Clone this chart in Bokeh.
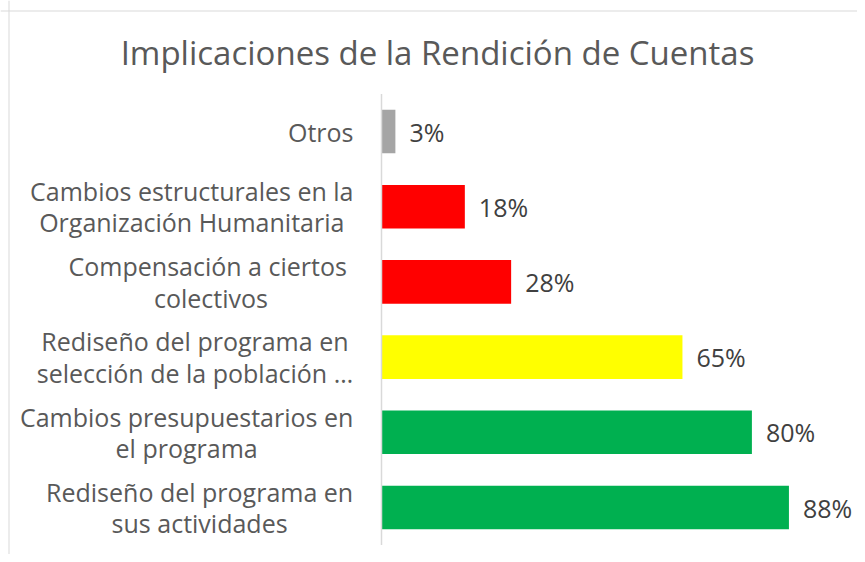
from bokeh.plotting import figure
from bokeh.models import ColumnDataSource, Range1d, Label, Span
from bokeh.embed import file_html
from bokeh.resources import INLINE
from bokeh.core.properties import value

# ---- data (top to bottom as displayed) ----
categories = [
    "Otros",
    "Cambios estructurales en la\nOrganización Humanitaria",
    "Compensación  a ciertos\ncolectivos",
    "Rediseño del programa en\nselección de la población …",
    "Cambios presupuestarios en\nel programa",
    "Rediseño del programa en\nsus actividades",
]
values = [3, 18, 28, 65, 80, 88]
value_labels = ["3%", "18%", "28%", "65%", "80%", "88%"]
colors = ["#A5A5A5", "#FF0000", "#FF0000", "#FFFF00", "#00B050", "#00B050"]
title_text = "Implicaciones de la Rendición de Cuentas"

# ---- layout constants ----
W, H = 857, 554
AXIS_PX = 381          # canvas x of the value axis
PX_PER_UNIT = 4.63     # pixels per percent
ROW_PX = 75.2          # pixels per category row
BOTTOM_CENTER_PX = 507 # canvas y of the bottom row centre
LABEL_FONT = 25
LABEL_GAP = 28

# approximate Open Sans advance widths (em) for centring multi-line labels
_w = {' ': .26, 'a': .556, 'b': .613, 'c': .476, 'd': .613, 'e': .561, 'f': .339,
      'g': .548, 'h': .614, 'i': .253, 'j': .253, 'k': .525, 'l': .253, 'm': .93,
      'n': .614, 'o': .604, 'p': .613, 'q': .613, 'r': .408, 's': .477, 't': .353,
      'u': .614, 'v': .501, 'w': .778, 'x': .524, 'y': .502, 'z': .477,
      'á': .556, 'é': .561, 'í': .253, 'ó': .604, 'ú': .614, 'ñ': .614,
      'C': .631, 'O': .781, 'H': .751, 'R': .623, '…': .8}

def text_width(s, size):
    return max(sum(_w.get(ch, .58) for ch in line) for line in s.split("\n")) * size

n = len(categories)
ypos = [n - 1 - i for i in range(n)]
label_offsets = [-(LABEL_GAP + text_width(c, LABEL_FONT) / 2) for c in categories]

src = ColumnDataSource(dict(cat=categories, val=values, lab=value_labels,
                            color=colors, y=ypos, xoff=label_offsets,
                            zero=[0] * n))

x_start = -AXIS_PX / PX_PER_UNIT
x_end = (W - AXIS_PX) / PX_PER_UNIT
y_start = -(H - BOTTOM_CENTER_PX) / ROW_PX
y_end = BOTTOM_CENTER_PX / ROW_PX

p = figure(width=W, height=H, output_backend="svg", toolbar_location=None,
           x_range=Range1d(x_start, x_end), y_range=Range1d(y_start, y_end),
           min_border=0, outline_line_color=None)
p.axis.visible = False
p.grid.visible = False
p.background_fill_color = "white"
p.border_fill_color = "white"

# chart border (left / top)
p.add_layout(Span(location=x_start + 8.5 / PX_PER_UNIT, dimension="height",
                  line_color="#D9D9D9", line_width=1))
p.add_layout(Span(location=y_end - 10.5 / ROW_PX, dimension="width",
                  line_color="#D9D9D9", line_width=1))

p.hbar(y="y", left=0, right="val", height=0.58, color="color",
       line_color=None, source=src)

# value axis line
p.segment(x0=0, y0=-0.5, x1=0, y1=n - 0.5, line_color="#D9D9D9", line_width=1.5)

# value labels
p.text(x="val", y="y", text="lab", x_offset=14, text_align="left",
       text_baseline="middle", text_font=value("Open Sans"),
       text_font_size="25px", text_color="#404040", source=src)

# category labels
p.text(x="zero", y="y", text="cat", x_offset="xoff", text_align="center",
       text_baseline="middle", text_font=value("Open Sans"),
       text_font_size=f"{LABEL_FONT}px", text_color="#595959",
       text_line_height=0.92, source=src)

p.add_layout(Label(x=437, y=H - 52, x_units="screen", y_units="screen",
                   text=title_text, text_align="center", text_baseline="middle",
                   text_font="Open Sans", text_font_size="33px",
                   text_color="#595959"))

open("out.html", "w").write(file_html(p, INLINE))
